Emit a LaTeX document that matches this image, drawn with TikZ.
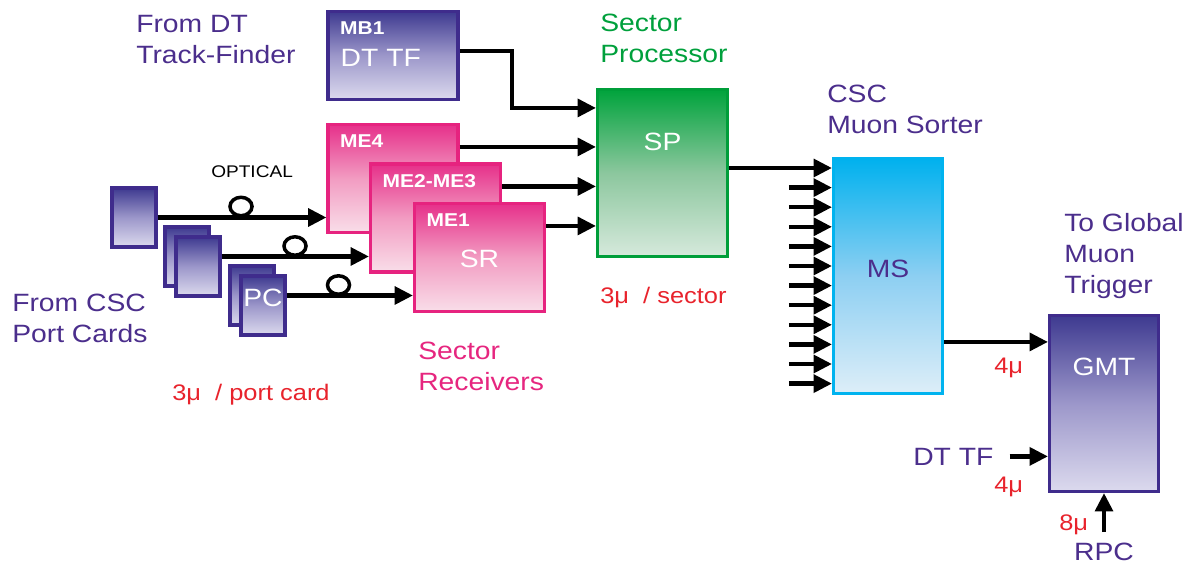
\documentclass[tikz,border=0pt]{standalone}
\usepackage{fontspec}
\setmainfont{Liberation Sans}[FakeStretch=1.13]
\usepackage{tikz}
\usetikzlibrary{arrows.meta, positioning, shapes.geometric}

\definecolor{ttlpurple}{HTML}{4B2E8C}
\definecolor{ttlgreen}{HTML}{00A03C}
\definecolor{ttlpink}{HTML}{E6267F}
\definecolor{murate}{HTML}{E8232C}
\definecolor{pcline}{HTML}{3F2C8C}
\definecolor{pctop}{HTML}{3E3A90}
\definecolor{pcmid}{HTML}{9C97CA}
\definecolor{pcbot}{HTML}{DCDAEE}
\definecolor{srline}{HTML}{E6237F}
\definecolor{srtop}{HTML}{E6308A}
\definecolor{srmid}{HTML}{F29CC2}
\definecolor{srbot}{HTML}{F9DEE9}
\definecolor{spline}{HTML}{009E3A}
\definecolor{sptop}{HTML}{00A33C}
\definecolor{spmid}{HTML}{8CC79E}
\definecolor{spbot}{HTML}{D6E9DC}
\definecolor{msline}{HTML}{00B3EF}
\definecolor{mstop}{HTML}{00B1EE}
\definecolor{msmid}{HTML}{8DCFF2}
\definecolor{msbot}{HTML}{DDEEF8}

\newcommand\bigtxt{\fontsize{17.8}{22}\selectfont}
\newcommand\tagtxt{\bfseries\fontsize{13.2}{15}\selectfont}
\newcommand\ratetxt{\fontsize{16}{19}\selectfont}
\newcommand\smalltxt{\fontsize{12}{14}\selectfont}

\begin{document}
\begin{tikzpicture}[x=0.025cm,y=-0.025cm,>={Triangle[length=13pt,width=12.5pt]},
    flow/.style={->,line width=3pt},
    card/.style={draw=pcline,line width=2.2pt,top color=pctop,bottom color=pcbot,middle color=pcmid,inner sep=0pt},
    pcard/.style={card,minimum width=1.1cm,minimum height=1.475cm},
    recv/.style={draw=srline,line width=2.2pt,top color=srtop,bottom color=srbot,middle color=srmid,
                 minimum width=3.25cm,minimum height=2.7cm},
    fiber/.style={ellipse,draw,line width=2.5pt,fill=white,minimum width=0.55cm,minimum height=0.46cm,inner sep=0pt},
    ttl/.style={inner sep=0pt,align=left,anchor=north west,text=ttlpurple,font=\bigtxt},
    tag/.style={inner sep=0pt,anchor=base west,text=white,font=\tagtxt},
    inlbl/.style={inner sep=0pt,text=white,font=\bigtxt},
    rate/.style={inner sep=0pt,anchor=base west,text=murate,font=\ratetxt}]

    \useasboundingbox (0,0) rectangle (1197,564);

    % boards
    \node[card,minimum width=3.25cm,minimum height=2.2cm] (mb1) at (393,55.5) {};
    \node[recv] (me4) at (393,178.5) {};
    \node[recv] (me23) at (435.5,218) {};
    \node[recv] (me1) at (479.5,257.5) {};
    \node[draw=spline,line width=2.2pt,top color=sptop,bottom color=spbot,middle color=spmid,
          minimum width=3.25cm,minimum height=4.175cm] (sp) at (662.5,173) {};
    \node[draw=msline,line width=2.2pt,top color=mstop,bottom color=msbot,middle color=msmid,
          minimum width=2.725cm,minimum height=5.875cm] (ms) at (888,276) {};
    \node[card,minimum width=2.725cm,minimum height=4.4cm] (gmt) at (1104,403.5) {};

    \node[pcard] (pc1) at (134,217.5) {};
    \node[pcard] (pc2b) at (187,256.5) {};
    \node[pcard] (pc2) at (198,266.5) {};
    \node[pcard] (pc3b) at (252,295.5) {};
    \node[pcard] (pc3) at (263,305.5) {};

    % texts inside the boards
    \node[tag] (mb1tag) at ([shift={(13.5,25)}]mb1.north west) {MB1};
    \node[tag] (me4tag) at ([shift={(13.5,25)}]me4.north west) {ME4};
    \node[tag] (me23tag) at ([shift={(13.5,25)}]me23.north west) {ME2-ME3};
    \node[tag] (me1tag) at ([shift={(13.5,25)}]me1.north west) {ME1};
    \node[inlbl,anchor=base west] (dttf) at ([shift={(14,56.5)}]mb1.north west) {DT TF};
    \node[inlbl] (srtxt) at ([yshift=-0.025cm]me1.center) {SR};
    \node[inlbl] (sptxt) at ([yshift=0.775cm]sp.center) {SP};
    \node[inlbl,text=ttlpurple] (mstxt) at ([yshift=0.175cm]ms.center) {MS};
    \node[inlbl] (gmttxt) at ([yshift=0.925cm]gmt.center) {GMT};
    \node[inlbl] (pctxt) at ([yshift=0.19cm]pc3.center) {PC};

    % titles
    \node[ttl] (dtsrc) at (136,15) {From DT\\Track-Finder};
    \node[ttl,text=ttlgreen] (sptitle) at (600,14) {Sector\\Processor};
    \node[ttl] (mstitle) at (827,85) {CSC\\Muon Sorter};
    \node[ttl] (gmttitle) at (1064,213) {To Global\\Muon\\Trigger};
    \node[ttl] (pcsrc) at (12,294) {From CSC\\Port Cards};
    \node[ttl,text=ttlpink] (srtitle) at (418,342) {Sector\\Receivers};

    \node[rate] (pcrate) at (172,400) {3μ~~/ port card};
    \node[rate] (sprate) at (600,303) {3μ~~/ sector};
    \node[rate] (msrate) at (994,373) {4μ};
    \node[rate] (dtrate) at (994,492) {4μ};
    \node[rate] (rpcrate) at (1059,530) {8μ};

    \node[inner sep=0pt,anchor=base west,font=\smalltxt] (optlbl) at (211,178) {OPTICAL};
    \node[inner sep=0pt,anchor=base west,text=ttlpurple,font=\bigtxt] (dtin) at (913,465) {DT TF};
    \node[inner sep=0pt,anchor=base,text=ttlpurple,font=\bigtxt] (rpc) at (1104,560) {RPC};

    % optical links
    \node[fiber] (f1) at (241,206.5) {};
    \node[fiber] (f2) at (295,246) {};
    \node[fiber] (f3) at (338.5,285) {};

    \draw[flow] (pc1.east) -- (pc1.east -| me4.west);
    \coordinate (pc2out) at ([yshift=0.25cm]pc2.east);
    \draw[flow] (pc2out) -- (pc2out -| me23.west);
    \coordinate (pc3out) at ([yshift=0.25cm]pc3.east);
    \draw[flow] (pc3out) -- (pc3out -| me1.west);

    % into the sector processor
    \coordinate (mbout) at ([yshift=0.12cm]mb1.east);
    \coordinate (spin) at ([yshift=-0.5cm]sp.north west);
    \draw[flow] (mbout) -- ++(52.5,0) |- (spin);
    \coordinate (me4out) at ([yshift=-0.6cm]me4.north east);
    \draw[flow] (me4out) -- (me4out -| sp.west);
    \coordinate (me23out) at ([yshift=-0.6cm]me23.north east);
    \draw[flow] (me23out) -- (me23out -| sp.west);
    \coordinate (me1out) at ([yshift=-0.6cm]me1.north east);
    \draw[flow] (me1out) -- (me1out -| sp.west);

    % muon sorter inputs
    \coordinate (spout) at ([yshift=0.125cm]sp.east);
    \draw[flow] (spout) -- (spout -| ms.west);
    \coordinate (msin) at (spout -| ms.west);
    \foreach \i in {1,...,11} {
        \coordinate (feed\i) at ([shift={(-43,19.6*\i)}]msin);
        \draw[flow] (feed\i) -- (feed\i -| ms.west);
    }

    % global muon trigger inputs
    \coordinate (gmtin) at ([yshift=-0.7cm]gmt.north west);
    \draw[flow] (gmtin -| ms.east) -- (gmtin);
    \draw[flow] ([xshift=0.4cm]dtin.east) -- (dtin.east -| gmt.west);
    \draw[flow] ([yshift=0.25cm]rpc.north) -- (rpc.north |- gmt.south);
\end{tikzpicture}
\end{document}
